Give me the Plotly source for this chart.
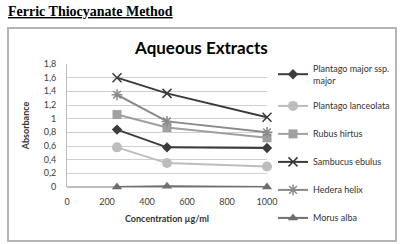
import plotly.graph_objects as go

concentration = [250, 500, 1000]
series_names = ["Plantago major ssp.<br>major", "Plantago lanceolata", "Rubus hirtus",
                "Sambucus ebulus", "Hedera helix", "Morus alba"]
plantago_major = [0.84, 0.58, 0.57]
plantago_lanceolata = [0.58, 0.35, 0.30]
rubus_hirtus = [1.06, 0.87, 0.72]
sambucus_ebulus = [1.60, 1.37, 1.02]
hedera_helix = [1.35, 0.96, 0.80]
morus_alba = [0.00, 0.01, 0.00]
y_ticks = [0, 0.2, 0.4, 0.6, 0.8, 1.0, 1.2, 1.4, 1.6, 1.8]
y_tick_labels = ["0", "0,2", "0,4", "0,6", "0,8", "1", "1,2", "1,4", "1,6", "1,8"]
x_ticks = [0, 200, 400, 600, 800, 1000]

values = [plantago_major, plantago_lanceolata, rubus_hirtus, sambucus_ebulus, hedera_helix, morus_alba]
colors = ["#3c3c3c", "#bdbdbd", "#a0a0a0", "#3a3a3a", "#8a8a8a", "#6e6e6e"]
symbols = ["diamond", "circle", "square", "x-thin", "asterisk", "triangle-up"]
msizes = [8, 10, 9, 9, 9, 9]

fig = go.Figure()
for i, (name, vals, c, s, ms) in enumerate(zip(series_names, values, colors, symbols, msizes)):
    marker = dict(symbol=s, size=ms, color=c)
    if s in ("x-thin", "asterisk"):
        marker["line"] = dict(color=c, width=1.5)
    fig.add_trace(go.Scatter(x=concentration, y=vals, name=name, mode="lines+markers",
                             legendgroup=f"g{i}",
                             line=dict(color=c, width=2), marker=marker, cliponaxis=False))

W, H = 400, 244
ml, mr, mt, mb = 67, 133, 64, 57
pw, ph = W - ml - mr, H - mt - mb

def px(x):
    return (x - ml) / pw

def py(y):
    return (H - mb - y) / ph

fig.add_shape(type="rect", xref="paper", yref="paper",
              x0=px(8), x1=px(396), y0=py(28), y1=py(241),
              line=dict(color="#b5b5b5", width=2), layer="below")

fig.add_annotation(text="<b><u>Ferric Thiocyanate Method</u></b>", xref="paper", yref="paper",
                   x=px(6), y=py(12), xanchor="left", yanchor="middle", showarrow=False,
                   font=dict(family="Liberation Serif", size=14, color="#000000"))
fig.add_annotation(text="<b>Aqueous Extracts</b>", xref="paper", yref="paper",
                   x=px(201), y=py(47), xanchor="center", yanchor="middle", showarrow=False,
                   font=dict(family="Lato", size=17, color="#000000"))

fig.update_layout(
    width=W, height=H, margin=dict(l=ml, r=mr, t=mt, b=mb, autoexpand=False),
    paper_bgcolor="white", plot_bgcolor="white",
    font=dict(family="Lato", size=9, color="#404040"),
    showlegend=True,
    legend=dict(x=(273 / W), y=1 - 56 / H, xanchor="left", yanchor="top",
                xref="container", yref="container", maxheight=1,
                font=dict(family="Lato", size=9, color="#333333"), tracegroupgap=9, itemwidth=30,
                bgcolor="rgba(0,0,0,0)"),
    xaxis=dict(range=[0, 1000], tickvals=x_ticks, showgrid=False, zeroline=False,
               showline=False, ticks="", ticklabelstandoff=8,
               tickfont=dict(size=9, color="#404040"),
               title=dict(text="<b>Concentration µg/ml</b>", font=dict(size=9, color="#333333"), standoff=9)),
    yaxis=dict(range=[0, 1.8], tickvals=y_ticks, ticktext=y_tick_labels, showgrid=True,
               gridcolor="#d0d0d0", gridwidth=1, zeroline=True, zerolinecolor="#bdbdbd",
               showline=True, linecolor="#bdbdbd", ticks="", ticklabelstandoff=8,
               tickfont=dict(size=9, color="#404040"),
               title=dict(text="<b>Absorbance</b>", font=dict(size=9, color="#333333"), standoff=12)),
)

fig.write_html("out.html", config={"displayModeBar": False},
               post_script="document.body.style.margin='0';document.body.style.overflow='hidden';")
